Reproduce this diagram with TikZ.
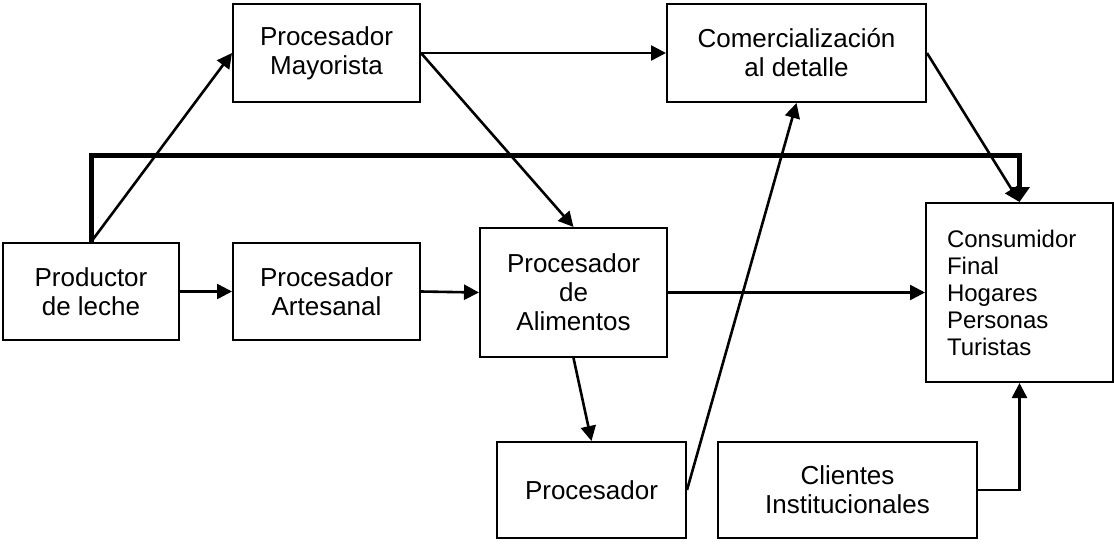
\documentclass[tikz,border=0pt]{standalone}
\usepackage{fontspec}
\setmainfont{Liberation Sans}
\usetikzlibrary{arrows.meta}

\begin{document}
\begin{tikzpicture}[x=1pt, y=-1pt,
        box/.style={draw, line width=2pt, align=center, inner sep=0pt, font=\fontsize{26}{29}\selectfont},
        flow/.style={line width=2.6pt, -{Triangle[length=15pt, width=15pt]}}]
        \useasboundingbox (0,0) rectangle (1114,544);

        % Boxes
        \node[box, minimum width=187pt, minimum height=98pt] (mayorista) at (326.5,53) {Procesador\\Mayorista};
        \node[box, minimum width=259pt, minimum height=98pt] (comercial) at (796.5,53) {Comercialización\\al detalle};
        \node[box, minimum width=176pt, minimum height=97pt] (productor) at (91,291.5) {Productor\\de leche};
        \node[box, minimum width=187pt, minimum height=97pt] (artesanal) at (326.5,291.5) {Procesador\\Artesanal};
        \node[box, minimum width=187pt, minimum height=129pt] (alimentos) at (573.5,292.5) {Procesador\\de\\Alimentos};
        \node[box, minimum width=187pt, minimum height=179pt, text width=145pt, inner xsep=21pt, align=left,
              font=\fontsize{24}{27}\selectfont] (consumidor) at (1019.5,292.5) {Consumidor\\Final\\Hogares\\Personas\\Turistas};
        \node[box, minimum width=189pt, minimum height=96pt] (procesador) at (591.5,490) {Procesador};
        \node[box, minimum width=259pt, minimum height=96pt] (clientes) at (847.5,490) {Clientes\\Institucionales};

        % Direct line from the producer
        \coordinate (bend) at (1019.5,155);
        \draw[line width=5pt, -{Triangle[length=15pt, width=20pt]}] (productor.north) |- (bend) -- (consumidor.north);

        % Arrows
        \draw[flow] (productor.north) -- (mayorista.west);
        \draw[flow] (mayorista.east) -- (comercial.west);
        \draw[flow] (mayorista.east) -- (alimentos.north);
        \draw[flow] (comercial.east) -- (consumidor.north);
        \draw[flow] (productor.east) -- (artesanal.west);
        \draw[flow] (artesanal.east) -- (alimentos.west);
        \draw[flow] (alimentos.east) -- (consumidor.west);
        \draw[flow] (alimentos.south) -- (procesador.north);
        \draw[flow] (procesador.east) -- (comercial.south);
        \draw[flow] (clientes.east) -| (consumidor.south);
    \end{tikzpicture}
\end{document}
